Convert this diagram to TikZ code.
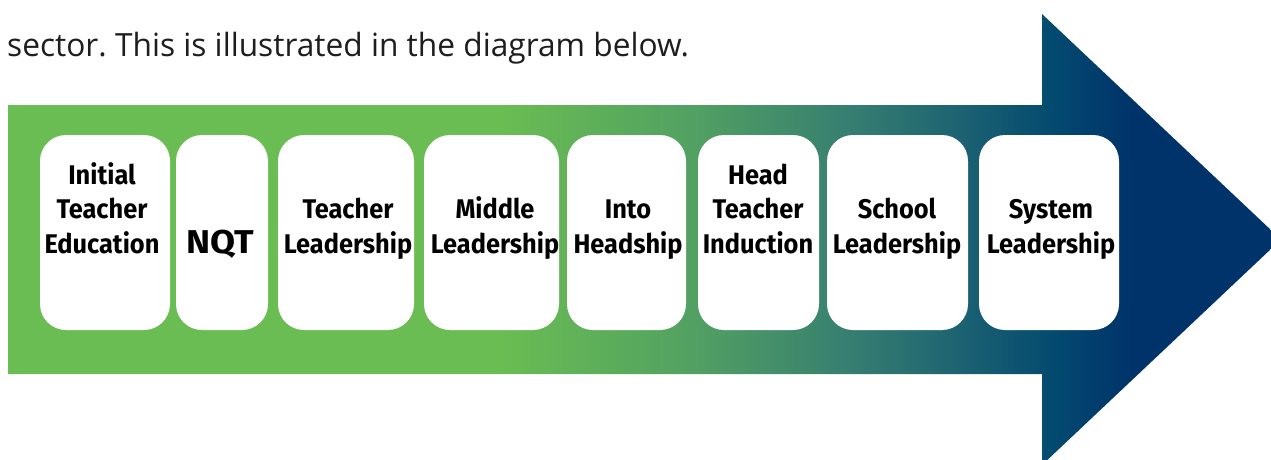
\documentclass[tikz,border=0pt]{standalone}
\usepackage{fontspec}
\newfontfamily\boxfont[FakeStretch=0.94]{Fira Sans}
\newfontfamily\nqtfont[FakeStretch=1.1]{Fira Sans}
\newfontfamily\headfont[FakeStretch=0.99]{Open Sans}
\frenchspacing
\definecolor{cgreen}{HTML}{6ABD52}
\definecolor{cg2}{HTML}{519F63}
\definecolor{cteal}{HTML}{367E71}
\definecolor{cteal2}{HTML}{1F6572}
\definecolor{cblue}{HTML}{044B70}
\definecolor{cnavy}{HTML}{00336A}
\definecolor{headgray}{HTML}{1E1E1E}
\pgfdeclarehorizontalshading{arrowshade}{100bp}{color(0bp)=(cgreen); color(25bp)=(cgreen); color(44.3bp)=(cgreen); color(52.2bp)=(cg2); color(58.1bp)=(cteal); color(62bp)=(cteal2); color(65.9bp)=(cblue); color(69.1bp)=(cnavy); color(100bp)=(cnavy)}
\begin{document}
\begin{tikzpicture}[x=1pt,y=-1pt,
  stage/.style={draw=none,fill=white,rounded corners=26pt,minimum height=195pt,inner sep=0pt},
  lbl/.style={font=\boxfont\bfseries\fontsize{27}{27}\selectfont,anchor=base,inner sep=0pt,text=black},
  bigl/.style={font=\nqtfont\bfseries\fontsize{33}{33}\selectfont,anchor=base,inner sep=0pt,text=black}]
\useasboundingbox (0,0) rectangle (1271,459);
% arrow
\path[shading=arrowshade] (8,105) -- (1042,105) -- (1042,14) -- (1281,239.5) -- (1042,465) -- (1042,374) -- (8,374) -- cycle;
% heading
\node[font=\headfont\fontsize{32}{32}\selectfont,text=headgray,anchor=base west,inner sep=0pt] (head) at (7,56) {sector. This is illustrated in the diagram below.};
% boxes
\node[stage,minimum width=130pt] (b1) at (105,232.5) {};
\node[stage,minimum width=92pt] (b2) at (222,232.5) {};
\node[stage,minimum width=136pt] (b3) at (346,232.5) {};
\node[stage,minimum width=135pt] (b4) at (491.5,232.5) {};
\node[stage,minimum width=119pt] (b5) at (626.5,232.5) {};
\node[stage,minimum width=121pt] (b6) at (758.5,232.5) {};
\node[stage,minimum width=141pt] (b7) at (897.5,232.5) {};
\node[stage,minimum width=140pt] (b8) at (1049,232.5) {};
% labels
\node[lbl] (t1a) at (102,184) {Initial};
\node[lbl] (t1b) at (102,218.5) {Teacher};
\node[lbl] (t1c) at (102,253) {Education};
\node[bigl] (t2) at (220,253) {NQT};
\node[lbl] (t3a) at (348,218.5) {Teacher};
\node[lbl] (t3b) at (348,253) {Leadership};
\node[lbl] (t4a) at (495,218.5) {Middle};
\node[lbl] (t4b) at (495,253) {Leadership};
\node[lbl] (t5a) at (628,218.5) {Into};
\node[lbl] (t5b) at (628,253) {Headship};
\node[lbl] (t6a) at (758,184) {Head};
\node[lbl] (t6b) at (758,218.5) {Teacher};
\node[lbl] (t6c) at (758,253) {Induction};
\node[lbl] (t7a) at (897,218.5) {School};
\node[lbl] (t7b) at (897,253) {Leadership};
\node[lbl] (t8a) at (1051,218.5) {System};
\node[lbl] (t8b) at (1051,253) {Leadership};
\end{tikzpicture}
\end{document}
